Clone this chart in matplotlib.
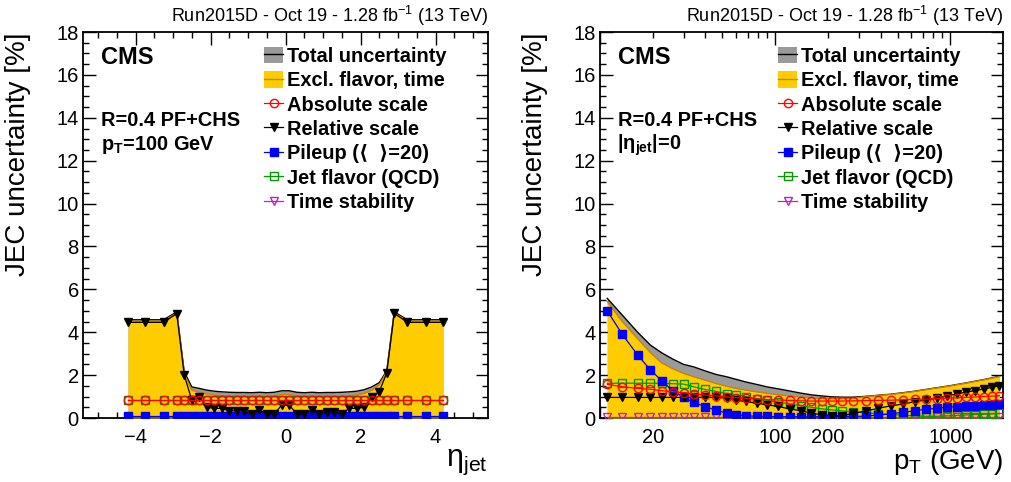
import matplotlib
matplotlib.use('Agg')
import matplotlib.pyplot as plt
from matplotlib.lines import Line2D
from matplotlib.patches import Patch
from matplotlib.ticker import MultipleLocator, FixedLocator, FixedFormatter

plt.rcParams['font.family'] = ['Liberation Sans', 'DejaVu Sans']
plt.rcParams['mathtext.fontset'] = 'custom'
plt.rcParams['mathtext.rm'] = 'Liberation Sans'
plt.rcParams['mathtext.it'] = 'Liberation Sans:italic'
plt.rcParams['mathtext.bf'] = 'Liberation Sans:bold'

# ---- left panel: vs eta at pT = 100 GeV ----
eta = [-4.2, -3.75, -3.25, -2.9, -2.7, -2.5, -2.3, -2.1, -1.9, -1.7, -1.5, -1.3,
       -1.1, -0.9, -0.7, -0.5, -0.3, -0.1, 0.1, 0.3, 0.5, 0.7, 0.9, 1.1,
       1.3, 1.5, 1.7, 1.9, 2.1, 2.3, 2.5, 2.7, 2.9, 3.25, 3.75, 4.2]
eta_total = [4.58, 4.58, 4.58, 4.95, 2.15, 1.45, 1.38, 1.30, 1.25, 1.22, 1.20, 1.19,
             1.19, 1.18, 1.20, 1.18, 1.20, 1.27, 1.27, 1.20, 1.18, 1.20, 1.18, 1.19,
             1.19, 1.20, 1.22, 1.25, 1.32, 1.45, 1.65, 2.20, 4.95, 4.58, 4.58, 4.58]
eta_excl = [4.52, 4.52, 4.52, 4.90, 2.05, 1.30, 1.20, 1.12, 1.07, 1.04, 1.02, 1.01,
            1.01, 1.00, 1.02, 1.00, 1.02, 1.10, 1.10, 1.02, 1.00, 1.02, 1.00, 1.01,
            1.01, 1.02, 1.04, 1.07, 1.15, 1.30, 1.55, 2.15, 4.90, 4.52, 4.52, 4.52]
eta_abs = [0.84, 0.84, 0.84, 0.84, 0.84, 0.84, 0.84, 0.84, 0.84, 0.84, 0.84, 0.84,
           0.84, 0.84, 0.84, 0.84, 0.84, 0.84, 0.84, 0.84, 0.84, 0.84, 0.84, 0.84,
           0.84, 0.84, 0.84, 0.84, 0.84, 0.84, 0.84, 0.84, 0.84, 0.84, 0.84, 0.84]
eta_rel = [4.46, 4.46, 4.46, 4.87, 2.00, 0.84, 0.99, 0.50, 0.45, 0.45, 0.34, 0.33,
           0.33, 0.20, 0.37, 0.20, 0.20, 0.60, 0.60, 0.20, 0.20, 0.37, 0.20, 0.30,
           0.30, 0.20, 0.45, 0.45, 0.50, 0.99, 1.23, 2.10, 4.88, 4.46, 4.46, 4.46]
eta_pu = [0.10, 0.10, 0.10, 0.10, 0.10, 0.10, 0.10, 0.10, 0.10, 0.10, 0.10, 0.10,
          0.10, 0.10, 0.10, 0.10, 0.10, 0.10, 0.10, 0.10, 0.10, 0.10, 0.10, 0.10,
          0.10, 0.10, 0.10, 0.10, 0.10, 0.10, 0.10, 0.10, 0.10, 0.10, 0.10, 0.10]
eta_flav = [0.82, 0.82, 0.82, 0.82, 0.82, 0.82, 0.82, 0.82, 0.82, 0.82, 0.82, 0.82,
            0.82, 0.82, 0.82, 0.82, 0.82, 0.82, 0.82, 0.82, 0.82, 0.82, 0.82, 0.82,
            0.82, 0.82, 0.82, 0.82, 0.82, 0.82, 0.82, 0.82, 0.82, 0.82, 0.82, 0.82]
eta_time = [0.03, 0.03, 0.03, 0.03, 0.03, 0.03, 0.03, 0.03, 0.03, 0.03, 0.03, 0.03,
            0.03, 0.03, 0.03, 0.03, 0.03, 0.03, 0.03, 0.03, 0.03, 0.03, 0.03, 0.03,
            0.03, 0.03, 0.03, 0.03, 0.03, 0.03, 0.03, 0.03, 0.03, 0.03, 0.03, 0.03]

# ---- right panel: vs pT at eta = 0 ----
pt = [11, 13.4, 16.4, 19.4, 22.5, 26, 30, 34.4, 39.7, 46, 53, 60, 68, 79, 90,
      104, 121, 140, 161, 184, 210, 240, 280, 330, 388, 458, 539, 627, 724, 836,
      954, 1087, 1222, 1376, 1550, 1730, 1910]
pt_total = [5.58, 4.80, 4.00, 3.40, 3.04, 2.75, 2.50, 2.38, 2.20, 2.03, 1.92, 1.80,
            1.68, 1.56, 1.45, 1.36, 1.26, 1.16, 1.08, 1.03, 0.99, 0.97, 0.97, 1.01,
            1.06, 1.11, 1.18, 1.25, 1.33, 1.41, 1.48, 1.56, 1.63, 1.71, 1.79, 1.87, 1.95]
pt_excl = [5.43, 4.50, 3.70, 3.05, 2.57, 2.30, 2.08, 1.92, 1.77, 1.61, 1.48, 1.38,
           1.30, 1.22, 1.15, 1.09, 1.02, 0.97, 0.94, 0.92, 0.91, 0.91, 0.92, 1.00,
           1.05, 1.10, 1.17, 1.24, 1.32, 1.40, 1.47, 1.55, 1.62, 1.70, 1.78, 1.86, 1.93]
pt_abs = [1.57, 1.46, 1.38, 1.34, 1.27, 1.23, 1.18, 1.12, 1.07, 1.03, 0.99, 0.95,
          0.92, 0.88, 0.86, 0.84, 0.82, 0.80, 0.79, 0.79, 0.79, 0.79, 0.80, 0.81,
          0.82, 0.83, 0.85, 0.87, 0.88, 0.90, 0.92, 0.94, 0.96, 0.98, 1.00, 1.02, 1.04]
pt_rel = [0.96, 0.96, 0.96, 0.96, 0.96, 0.96, 0.96, 0.96, 0.96, 0.96, 0.93, 0.83,
          0.77, 0.69, 0.61, 0.54, 0.42, 0.34, 0.23, 0.15, 0.11, 0.09, 0.22, 0.33,
          0.45, 0.57, 0.65, 0.76, 0.84, 0.92, 1.03, 1.12, 1.20, 1.27, 1.35, 1.43, 1.51]
pt_pu = [5.00, 3.90, 2.94, 2.24, 1.74, 1.27, 0.96, 0.73, 0.53, 0.37, 0.22, 0.15,
         0.10, 0.08, 0.07, 0.06, 0.06, 0.06, 0.06, 0.06, 0.06, 0.06, 0.07, 0.09,
         0.14, 0.19, 0.27, 0.33, 0.41, 0.45, 0.50, 0.53, 0.55, 0.56, 0.59, 0.61, 0.64]
pt_flav = [1.62, 1.62, 1.62, 1.62, 1.62, 1.60, 1.58, 1.45, 1.33, 1.24, 1.14, 1.08,
           1.00, 0.90, 0.82, 0.74, 0.66, 0.57, 0.50, 0.43, 0.38, 0.33, 0.28, 0.25,
           0.20, 0.16, 0.13, 0.10, 0.08, 0.08, 0.10, 0.12, 0.14, 0.16, 0.17, 0.19, 0.21]
pt_time = [0.05, 0.05, 0.05, 0.05, 0.05, 0.05, 0.05, 0.05, 0.05, 0.05, 0.05, 0.05,
           0.05, 0.05, 0.05, 0.05, 0.05, 0.05, 0.05, 0.05, 0.05, 0.05, 0.05, 0.05,
           0.05, 0.05, 0.05, 0.05, 0.05, 0.05, 0.05, 0.05, 0.05, 0.05, 0.05, 0.05, 0.05]

legend_labels = ['Total uncertainty', 'Excl. flavor, time', 'Absolute scale',
                 'Relative scale', 'Pileup (\u27e8  \u27e9=20)', 'Jet flavor (QCD)',
                 'Time stability']

C_GRAY = '#9a9a9a'
C_YELLOW = '#ffcc00'
C_ORANGE = '#d08000'
C_RED = '#ff0000'
C_BLUE = '#0000ff'
C_GREEN = '#009900'
C_MAG = '#c020c0'

series_style = [
    dict(color=C_RED, marker='o', mfc='none'),
    dict(color='black', marker='v', mfc='black'),
    dict(color=C_BLUE, marker='s', mfc=C_BLUE),
    dict(color=C_GREEN, marker='s', mfc='none'),
    dict(color=C_MAG, marker='v', mfc='none'),
]


def draw_panel(ax, x, total, excl, comps):
    ax.fill_between(x, 0, total, color=C_GRAY, lw=0, zorder=1)
    ax.plot(x, total, color='black', lw=1.0, zorder=2)
    ax.fill_between(x, 0, excl, color=C_YELLOW, lw=0, zorder=3)
    ax.plot(x, excl, color=C_ORANGE, lw=1.0, zorder=4)
    for i, (y, st) in enumerate(zip(comps, series_style)):
        ax.plot(x, y, lw=0.9, ms=6, mew=1.0, mec=st['color'],
                zorder=10 - i, **st)


def style_axes(ax):
    for s in ax.spines.values():
        s.set_linewidth(1.3)
    ax.tick_params(which='both', direction='in', top=True, right=True,
                   labelsize=14.5, width=1.0)
    ax.tick_params(which='major', length=9, pad=3)
    ax.tick_params(which='minor', length=4.5)
    ax.tick_params(axis='x', which='major', pad=7)
    ax.set_ylim(0, 18)
    ax.yaxis.set_major_locator(MultipleLocator(2))
    ax.yaxis.set_minor_locator(MultipleLocator(0.5))
    ax.set_ylabel('JEC uncertainty [%]', fontsize=20, loc='top')
    ax.yaxis.set_label_coords(-0.128, 1.0)
    ax.text(1.0, 1.042, 'Run2015D - Oct 19 - 1.28 fb$^{-1}$ (13 TeV)',
            transform=ax.transAxes, ha='right', va='center', fontsize=13)
    ax.text(0.045, 0.935, 'CMS', transform=ax.transAxes, ha='left', va='center',
            fontsize=17, fontweight='bold')
    ax.text(0.045, 0.772, 'R=0.4 PF+CHS', transform=ax.transAxes, ha='left',
            va='center', fontsize=14.4, fontweight='bold')


def legend_handles():
    h = [(Patch(facecolor=C_GRAY, edgecolor='none'), Line2D([], [], color='black', lw=1.0)),
         (Patch(facecolor=C_YELLOW, edgecolor='none'), Line2D([], [], color=C_ORANGE, lw=1.0))]
    for st in series_style:
        h.append(Line2D([], [], lw=0.9, ms=6, mew=1.0, mec=st['color'], **st))
    return h


def add_legend(ax, x0):
    ax.legend(legend_handles(), legend_labels, loc='upper left',
              bbox_to_anchor=(x0, 0.962), frameon=False,
              prop={'weight': 'bold', 'size': 14.4}, handlelength=0.95,
              handleheight=0.9, handletextpad=0.2, labelspacing=0.26,
              borderpad=0, borderaxespad=0)


fig = plt.figure(figsize=(10.11, 4.82), dpi=100)

ax1 = fig.add_axes([83 / 1011, 64 / 482, 405 / 1011, 386 / 482])
draw_panel(ax1, eta, eta_total, eta_excl,
           [eta_abs, eta_rel, eta_pu, eta_flav, eta_time])
style_axes(ax1)
ax1.set_xlim(-5.4, 5.4)
ax1.xaxis.set_minor_locator(MultipleLocator(0.5))
ax1.set_xticks([-4, -2, 0, 2, 4])
ax1.set_xticklabels(['\u22124', '\u22122', '0', '2', '4'])
ax1.set_xlabel(r'$\mathrm{\eta}_{\mathrm{jet}}$', fontsize=22, loc='right')
ax1.xaxis.set_label_coords(1.0, -0.075)
ax1.text(0.045, 0.707, r'$\mathbf{p_T}$=100 GeV', transform=ax1.transAxes,
         ha='left', va='center', fontsize=14.4, fontweight='bold')
add_legend(ax1, 0.447)

ax2 = fig.add_axes([600 / 1011, 64 / 482, 403 / 1011, 386 / 482])
draw_panel(ax2, pt, pt_total, pt_excl,
           [pt_abs, pt_rel, pt_pu, pt_flav, pt_time])
style_axes(ax2)
ax2.set_xscale('log')
ax2.set_xlim(10, 2000)
ax2.xaxis.set_major_locator(FixedLocator([10, 100, 1000]))
ax2.xaxis.set_major_formatter(FixedFormatter(['', '100', '1000']))
minor_pos = [20, 30, 40, 50, 60, 70, 80, 90, 200, 300, 400, 500, 600, 700, 800, 900]
ax2.xaxis.set_minor_locator(FixedLocator(minor_pos))
ax2.xaxis.set_minor_formatter(FixedFormatter(['20', '', '', '', '', '', '', '',
                                               '200', '', '', '', '', '', '', '']))
ax2.tick_params(axis='x', which='minor', labelsize=14.5, pad=7)
ax2.set_xlabel(r'$\mathrm{p}_{\mathrm{T}}$ (GeV)', fontsize=20, loc='right')
ax2.xaxis.set_label_coords(1.0, -0.075)
ax2.text(0.041, 0.707, r'$\mathbf{|η_{jet}|}$=0', transform=ax2.transAxes,
         ha='left', va='center', fontsize=14.4, fontweight='bold')
add_legend(ax2, 0.442)

fig.savefig('out.png', dpi=100)
